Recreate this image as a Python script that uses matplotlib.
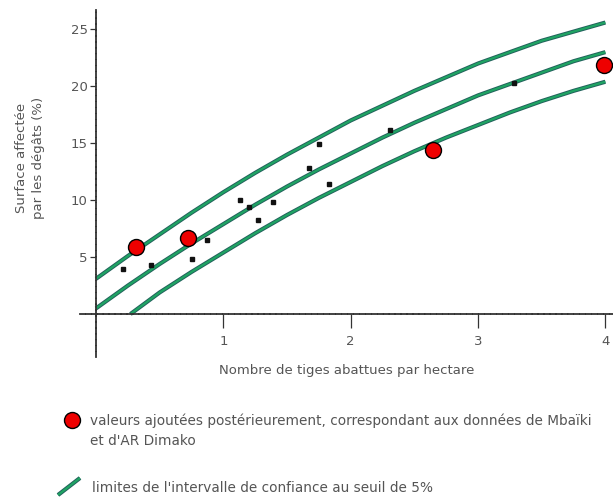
import matplotlib
matplotlib.use('Agg')
import matplotlib.pyplot as plt
import matplotlib.patheffects as pe
from matplotlib.lines import Line2D

plt.rcParams['font.family'] = ['DejaVu Sans']

# Points noirs (données d'origine)
obs_x = [0.21, 0.43, 0.75, 0.87, 1.13, 1.20, 1.27, 1.39, 1.67, 1.75, 1.83, 2.31, 3.28]
obs_y = [4.0, 4.3, 4.8, 6.5, 10.0, 9.4, 8.3, 9.8, 12.8, 14.9, 11.4, 16.2, 20.3]

# Valeurs ajoutées (points rouges)
add_x = [0.31, 0.72, 2.65, 3.99]
add_y = [5.9, 6.7, 14.4, 21.9]

# Courbe centrale et limites de l'intervalle de confiance
curve_x = [0.0, 0.25, 0.5, 0.75, 1.0, 1.25, 1.5, 1.75, 2.0,
           2.25, 2.5, 2.75, 3.0, 3.25, 3.5, 3.75, 4.0]
upper_y = [3.1, 5.1, 7.0, 8.9, 10.7, 12.4, 14.0, 15.5, 17.0,
           18.3, 19.6, 20.8, 22.0, 23.0, 24.0, 24.8, 25.6]
mid_y = [0.5, 2.5, 4.4, 6.2, 7.9, 9.6, 11.2, 12.7, 14.1,
         15.5, 16.8, 18.0, 19.2, 20.2, 21.2, 22.2, 23.0]
low_x = [0.27, 0.5, 0.75, 1.0, 1.25, 1.5, 1.75, 2.0,
         2.25, 2.5, 2.75, 3.0, 3.25, 3.5, 3.75, 4.0]
low_y = [0.0, 1.9, 3.7, 5.4, 7.1, 8.7, 10.2, 11.6,
         13.0, 14.3, 15.5, 16.6, 17.7, 18.7, 19.6, 20.4]

x_ticks = [1, 2, 3, 4]
y_ticks = [5, 10, 15, 20, 25]

GREEN = '#1fa463'
GREEN_EDGE = '#22625c'
RED = '#ee0000'
TXT = '#555555'
AXC = '#333333'

line_fx = [pe.Stroke(linewidth=3.0, foreground=GREEN_EDGE), pe.Normal()]

W, H = 613, 498
fig = plt.figure(figsize=(W / 100, H / 100), dpi=100)
ax = fig.add_axes([80 / W, 1 - 357 / H, (613 - 80) / W, (357 - 10) / H])

for xx, yy in [(curve_x, upper_y), (curve_x, mid_y), (low_x, low_y)]:
    ax.plot(xx, yy, color=GREEN, lw=1.6, solid_capstyle='butt',
            solid_joinstyle='round', path_effects=line_fx, zorder=2)

ax.plot(obs_x, obs_y, 's', color='#111111', markersize=2.8, zorder=3)
ax.plot(add_x, add_y, 'o', color=RED, markeredgecolor='black',
        markeredgewidth=1.0, markersize=11.5, zorder=4)

ax.set_xlim(-0.126, 4.06)
ax.set_ylim(-3.77, 26.7)

ax.spines['top'].set_visible(False)
ax.spines['right'].set_visible(False)
ax.spines['left'].set_position(('data', 0))
ax.spines['bottom'].set_position(('data', 0))
for s in ['left', 'bottom']:
    ax.spines[s].set_color(AXC)
    ax.spines[s].set_linewidth(1.3)
    ax.spines[s].set_linestyle((0, (2.5, 0.8)))

ax.set_xticks(x_ticks)
ax.set_xticklabels([str(v) for v in x_ticks])
ax.set_yticks(y_ticks)
ax.set_yticklabels([str(v) for v in y_ticks])
ax.tick_params(axis='x', direction='out', length=10, width=0.9, color=AXC,
               labelsize=9.5, labelcolor=TXT, pad=5)
ax.tick_params(axis='y', direction='out', length=4.5, width=0.9, color=AXC,
               labelsize=9.5, labelcolor=TXT, pad=1.5)
ax.patch.set_visible(False)

fig.text(347 / W, 1 - 370 / H, 'Nombre de tiges abattues par hectare',
         ha='center', va='center', fontsize=9.5, color=TXT)
fig.text(30 / W, 1 - 158 / H, 'Surface affectée\npar les dégâts (%)',
         ha='center', va='center', rotation=90, fontsize=9.5, color=TXT,
         linespacing=1.35)

# Légende
fig.add_artist(Line2D([72 / W], [1 - 420 / H], marker='o', linestyle='none',
                      color=RED, markeredgecolor='black', markeredgewidth=1.0,
                      markersize=11.5, transform=fig.transFigure))
fig.text(90 / W, 1 - 431 / H,
         'valeurs ajoutées postérieurement, correspondant aux données de Mbaïki\n'
         'et d\'AR Dimako',
         ha='left', va='center', fontsize=9.8, color=TXT, linespacing=1.55)
fig.add_artist(Line2D([58 / W, 80 / W], [1 - 495 / H, 1 - 478 / H], color=GREEN,
                      lw=1.6, solid_capstyle='butt', path_effects=line_fx,
                      transform=fig.transFigure))
fig.text(92 / W, 1 - 488 / H,
         'limites de l\'intervalle de confiance au seuil de 5%',
         ha='left', va='center', fontsize=9.8, color=TXT)

fig.savefig('out.png', dpi=100, facecolor='white')
